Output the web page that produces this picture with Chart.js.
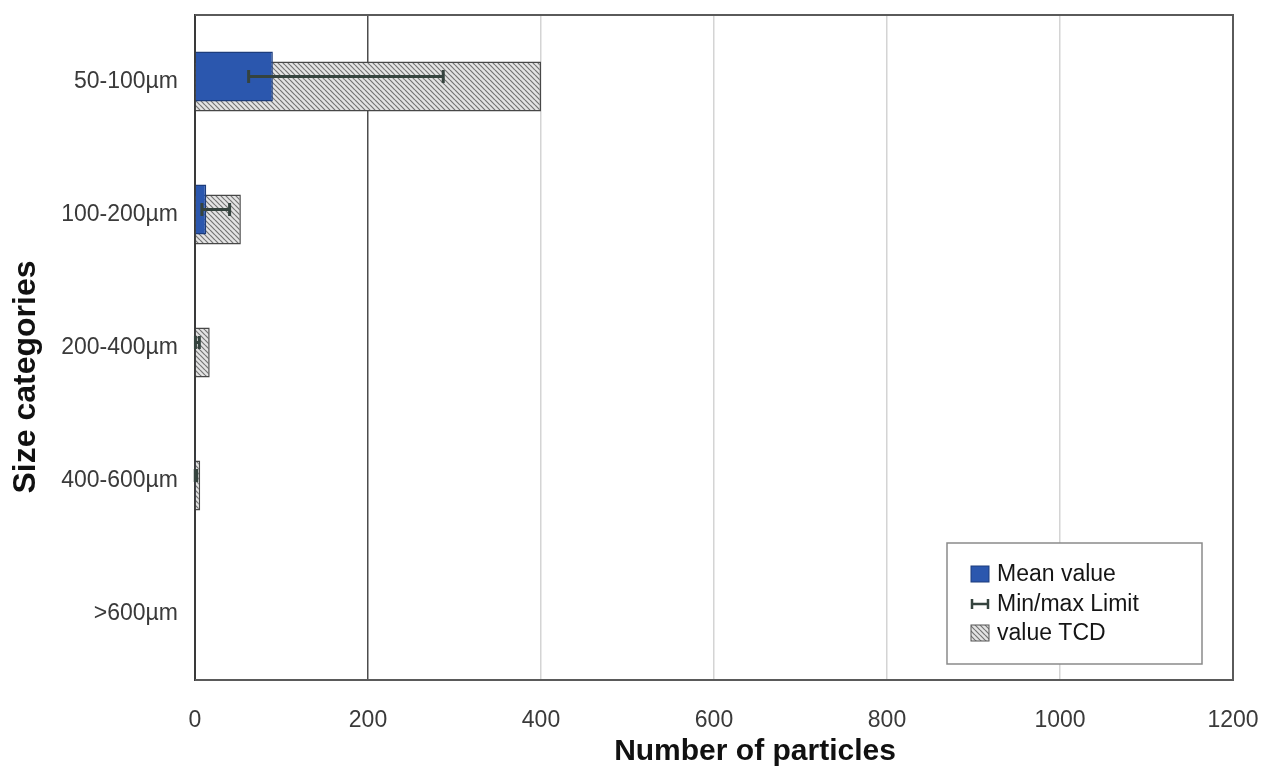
<!DOCTYPE html>
<html>
<head>
<meta charset="utf-8">
<title>Particle size distribution</title>
<script src="https://cdn.jsdelivr.net/npm/chart.js@4.4.1/dist/chart.umd.min.js"></script>
<style>
  html, body { margin: 0; padding: 0; background: #ffffff; }
  #wrap { width: 1269px; height: 769px; position: relative; }
</style>
</head>
<body>
<div id="wrap"><canvas id="chart" width="1269" height="769"></canvas></div>
<script>
// Size classes (rows, top to bottom)
const categories = ['50-100µm', '100-200µm', '200-400µm', '400-600µm', '>600µm'];
// Mean particle counts per class
const meanValues = [90, 13, 1, 0.5, 0];
// Lower / upper limits of the error bars
const minValues = [62, 8, 0.5, 0.3, 0];
const maxValues = [287, 40, 5, 2, 0];
// Reference counts (hatched bars)
const tcdValues = [400, 53, 17, 6, 0];
// Value axis ticks
const xTicks = [0, 200, 400, 600, 800, 1000, 1200];

const FONT = '"Liberation Sans", Arial, Helvetica, sans-serif';
const X_TITLE = 'Number of particles';
const Y_TITLE = 'Size categories';

// Diagonal hatch fill used by the reference bars
function makeHatch() {
  const s = 5;
  const c = document.createElement('canvas');
  c.width = s; c.height = s;
  const g = c.getContext('2d');
  g.fillStyle = '#e4e4e4';
  g.fillRect(0, 0, s, s);
  g.strokeStyle = '#747474';
  g.lineWidth = 1.2;
  g.beginPath();
  for (const k of [-s, 0, s]) {
    g.moveTo(0, k);
    g.lineTo(s, s + k);
  }
  g.stroke();
  return document.getElementById('chart').getContext('2d').createPattern(c, 'repeat');
}
const hatch = makeHatch();

const ERR_COLOR = '#35433e';

// Min/max whiskers centred on the mean bars
const errorBars = {
  id: 'errorBars',
  afterDatasetsDraw(chart) {
    const meta = chart.getDatasetMeta(0);
    const xs = chart.scales.x;
    const ctx = chart.ctx;
    ctx.save();
    ctx.strokeStyle = ERR_COLOR;
    ctx.lineWidth = 3;
    meta.data.forEach((bar, i) => {
      if (!(maxValues[i] > 0)) return;
      const y = bar.y;
      const x1 = xs.getPixelForValue(minValues[i]);
      const x2 = xs.getPixelForValue(maxValues[i]);
      ctx.beginPath();
      ctx.moveTo(x1, y); ctx.lineTo(x2, y);
      ctx.moveTo(x1, y - 6.5); ctx.lineTo(x1, y + 6.5);
      ctx.moveTo(x2, y - 6.5); ctx.lineTo(x2, y + 6.5);
      ctx.stroke();
    });
    ctx.restore();
  }
};

// Frame around the plot area, axis titles and the boxed legend
const frameAndLegend = {
  id: 'frameAndLegend',
  afterDraw(chart) {
    const ctx = chart.ctx;
    const a = chart.chartArea;
    ctx.save();
    ctx.strokeStyle = '#5a5a5a';
    ctx.lineWidth = 2;
    ctx.beginPath();
    ctx.moveTo(a.left, a.top);
    ctx.lineTo(a.right, a.top);
    ctx.lineTo(a.right, a.bottom);
    ctx.lineTo(a.left, a.bottom);
    ctx.stroke();

    // axis titles
    ctx.fillStyle = '#111';
    ctx.font = 'bold 30px ' + FONT;
    ctx.textAlign = 'center';
    ctx.textBaseline = 'middle';
    ctx.fillText(X_TITLE, 755, 752);
    ctx.save();
    ctx.translate(35, 377);
    ctx.rotate(-Math.PI / 2);
    ctx.font = 'bold 32px ' + FONT;
    ctx.textBaseline = 'alphabetic';
    ctx.fillText(Y_TITLE, 0, 0);
    ctx.restore();

    // legend box
    const bx = 947, by = 543, bw = 255, bh = 121;
    ctx.fillStyle = '#ffffff';
    ctx.fillRect(bx, by, bw, bh);
    ctx.strokeStyle = '#8a8a8a';
    ctx.lineWidth = 1.5;
    ctx.strokeRect(bx, by, bw, bh);

    const items = [
      { label: chart.data.datasets[0].label, kind: 'mean', y: 574 },
      { label: 'Min/max Limit', kind: 'err', y: 604 },
      { label: chart.data.datasets[1].label, kind: 'tcd', y: 633 }
    ];
    ctx.font = '23px ' + FONT;
    ctx.textBaseline = 'middle';
    ctx.textAlign = 'left';
    items.forEach(it => {
      const sx = 971, sw = 18, sh = 16;
      if (it.kind === 'mean') {
        ctx.fillStyle = '#2b57ae';
        ctx.fillRect(sx, it.y - sh / 2, sw, sh);
        ctx.strokeStyle = '#1c3c7c';
        ctx.lineWidth = 1;
        ctx.strokeRect(sx, it.y - sh / 2, sw, sh);
      } else if (it.kind === 'tcd') {
        ctx.fillStyle = hatch;
        ctx.fillRect(sx, it.y - sh / 2, sw, sh);
        ctx.strokeStyle = '#555';
        ctx.lineWidth = 1;
        ctx.strokeRect(sx, it.y - sh / 2, sw, sh);
      } else {
        ctx.strokeStyle = ERR_COLOR;
        ctx.lineWidth = 2.5;
        ctx.beginPath();
        ctx.moveTo(sx + 1, it.y); ctx.lineTo(sx + sw - 1, it.y);
        ctx.moveTo(sx + 1, it.y - 5); ctx.lineTo(sx + 1, it.y + 5);
        ctx.moveTo(sx + sw - 1, it.y - 5); ctx.lineTo(sx + sw - 1, it.y + 5);
        ctx.stroke();
      }
      ctx.fillStyle = '#151515';
      ctx.fillText(it.label, 997, it.y + 1);
    });
    ctx.restore();
  }
};

// Let the layout padding alone decide the plot-area edges
function clearEdgePadding(scale) {
  scale.paddingTop = 0;
  scale.paddingBottom = 0;
  scale.paddingLeft = 0;
  scale.paddingRight = 0;
}

new Chart(document.getElementById('chart'), {
  type: 'bar',
  data: {
    labels: categories,
    datasets: [
      {
        label: 'Mean value',
        data: meanValues,
        backgroundColor: '#2b57ae',
        borderColor: '#1c3c7c',
        borderWidth: 1.5
      },
      {
        label: 'value TCD',
        data: tcdValues,
        backgroundColor: hatch,
        borderColor: '#474747',
        borderWidth: 1.5
      }
    ]
  },
  options: {
    indexAxis: 'y',
    responsive: false,
    animation: false,
    // narrow group with wide bars -> the two bars overlap with a small offset
    categoryPercentage: 0.15,
    barPercentage: 5,
    layout: { padding: { top: 15, right: 36, left: 0, bottom: 0 } },
    plugins: {
      legend: { display: false },
      tooltip: { enabled: false }
    },
    scales: {
      x: {
        type: 'linear',
        min: xTicks[0],
        max: xTicks[xTicks.length - 1],
        afterBuildTicks(scale) { scale.ticks = xTicks.map(v => ({ value: v })); },
        afterFit(scale) { scale.height = 89; clearEdgePadding(scale); },
        grid: {
          drawTicks: false,
          lineWidth: 1.5,
          color: c => (c.tick && c.tick.value === 200 ? '#4d4d4d' : '#d4d4d4')
        },
        border: { display: true, color: '#5a5a5a', width: 2 },
        ticks: {
          padding: 27,
          color: '#3a3a3a',
          font: { family: FONT, size: 23 },
          callback: v => String(v)
        },
        title: { display: false }
      },
      y: {
        type: 'category',
        afterFit(scale) { scale.width = 195; clearEdgePadding(scale); },
        grid: { display: false, drawTicks: false },
        border: { display: true, color: '#3a3a3a', width: 2 },
        ticks: {
          padding: 17,
          color: '#3a3a3a',
          font: { family: FONT, size: 23 }
        },
        title: { display: false }
      }
    }
  },
  plugins: [errorBars, frameAndLegend]
});
</script>
</body>
</html>
